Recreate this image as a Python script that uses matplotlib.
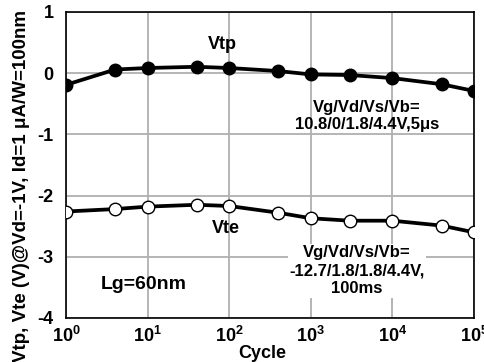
import matplotlib
matplotlib.use('Agg')
import matplotlib.pyplot as plt

# Dados
ciclos = [1, 4, 10, 40, 100, 400, 1000, 3000, 10000, 40000, 100000]
vtp = [-0.19, 0.06, 0.085, 0.105, 0.085, 0.035, -0.02, -0.03, -0.08, -0.18, -0.29]
vte = [-2.26, -2.22, -2.18, -2.15, -2.17, -2.28, -2.37, -2.41, -2.41, -2.49, -2.60]

plt.rcParams['font.family'] = ['Liberation Sans', 'DejaVu Sans']
plt.rcParams['font.weight'] = 'bold'
plt.rcParams['mathtext.fontset'] = 'custom'
plt.rcParams['mathtext.rm'] = 'Liberation Sans:bold'
plt.rcParams['mathtext.default'] = 'regular'
plt.rcParams['axes.unicode_minus'] = False

fig = plt.figure(figsize=(4.84, 3.62), dpi=100)
ax = fig.add_axes([66/484, 1 - 318/362, (474 - 66)/484, (318 - 12)/362])

ax.plot(ciclos, vtp, '-o', color='black', lw=2.7, ms=9, mfc='black', mec='black', zorder=3)
ax.plot(ciclos, vte, '-o', color='black', lw=2.7, ms=9, mfc='white', mec='black', mew=1.0, zorder=3)

ax.set_xscale('log')
ax.set_xlim(1, 1e5)
ax.set_ylim(-4, 1)
ax.set_xticks([1, 10, 100, 1000, 10000, 100000])
ax.set_xticklabels([r'$10^{%d}$' % i for i in range(6)])
ax.set_yticks([1, 0, -1, -2, -3, -4])
ax.minorticks_off()
ax.tick_params(length=0, labelsize=13)
ax.tick_params(axis='y', pad=9)
ax.tick_params(axis='x', pad=6)
ax.grid(True, color='#b0b0b0', lw=1.3)
ax.set_axisbelow(True)
for s in ax.spines.values():
    s.set_linewidth(1.2)

fig.text(262/484, 1 - 353/362, 'Cycle', fontsize=13, ha='center', va='center')
fig.text(22/484, 1 - 186/362, 'Vtp, Vte (V)@Vd=-1V, Id=1 \u03bcA/W=100nm', fontsize=13.5,
         rotation=90, ha='center', va='center')

ax.text(82, 0.47, 'Vtp', fontsize=13, ha='center', va='center')
ax.text(91, -2.53, 'Vte', fontsize=13, ha='center', va='center')
ax.text(9, -3.45, 'Lg=60nm', fontsize=14, ha='center', va='center')
ax.text(4900, -0.70, 'Vg/Vd/Vs/Vb=\n10.8/0/1.8/4.4V,5\u03bcs', fontsize=12, ha='center', va='center',
        linespacing=1.2)
ax.text(3700, -3.23, 'Vg/Vd/Vs/Vb=\n-12.7/1.8/1.8/4.4V,\n100ms', fontsize=12, ha='center', va='center',
        linespacing=1.25, bbox=dict(facecolor='white', edgecolor='none', pad=1))

fig.savefig('out.png', dpi=100)
